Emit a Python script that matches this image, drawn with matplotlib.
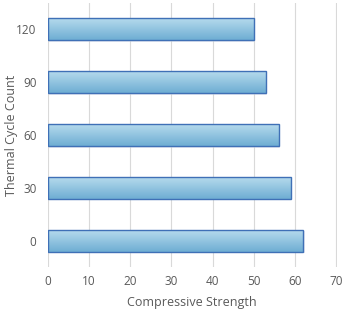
import matplotlib
matplotlib.use("Agg")
import matplotlib.pyplot as plt
import numpy as np
from matplotlib.colors import LinearSegmentedColormap

categories = ["0", "30", "60", "90", "120"]
values = [62, 59, 56, 53, 50]
xticks = [0, 10, 20, 30, 40, 50, 60, 70]

plt.rcParams['font.family'] = ['Open Sans', 'DejaVu Sans']
fig = plt.figure(figsize=(3.48, 3.14), dpi=100)
ax = fig.add_axes([47.5/348, 47/314, 289/348, 264/314])

ypos = np.arange(len(categories))
h = 0.42
bars = ax.barh(ypos, values, height=h, color='none', edgecolor='#3f70b6', linewidth=1.0, zorder=3)
cmap = LinearSegmentedColormap.from_list('g', ['#6eaed3', '#b9dcee'])
grad = np.linspace(0, 1, 100).reshape(-1, 1)
for b in bars:
    x0, y0 = b.get_x(), b.get_y()
    w, hh = b.get_width(), b.get_height()
    ax.barh(y0 + hh/2 - 0.03, w, height=hh, left=0.25, color='#d5d9e6', alpha=0.5, zorder=2, linewidth=0)
    im = ax.imshow(grad, extent=[x0, x0 + w, y0, y0 + hh], origin='lower', cmap=cmap,
                   aspect='auto', zorder=2.5)
    im.set_clip_path(b)

ax.set_xlim(0, 70)
ax.set_ylim(-0.5, 4.5)
ax.set_xticks(xticks)
ax.set_yticks(ypos)
ax.set_yticklabels(categories)
ax.grid(axis='x', color='#d9d9d9', linewidth=0.8, zorder=0)
ax.set_axisbelow(True)
for s in ax.spines.values():
    s.set_visible(False)
ax.tick_params(length=0, colors='#595959', labelsize=8.5, pad=6)
ax.tick_params(axis='y', pad=8)
ax.set_xlabel('Compressive Strength', color='#595959', fontsize=9)
ax.set_ylabel('Thermal Cycle Count', color='#595959', fontsize=9)
ax.xaxis.set_label_coords(0.5, -29/264)
ax.yaxis.set_label_coords(-30/289, 0.5)
fig.savefig('out.png', dpi=100)
